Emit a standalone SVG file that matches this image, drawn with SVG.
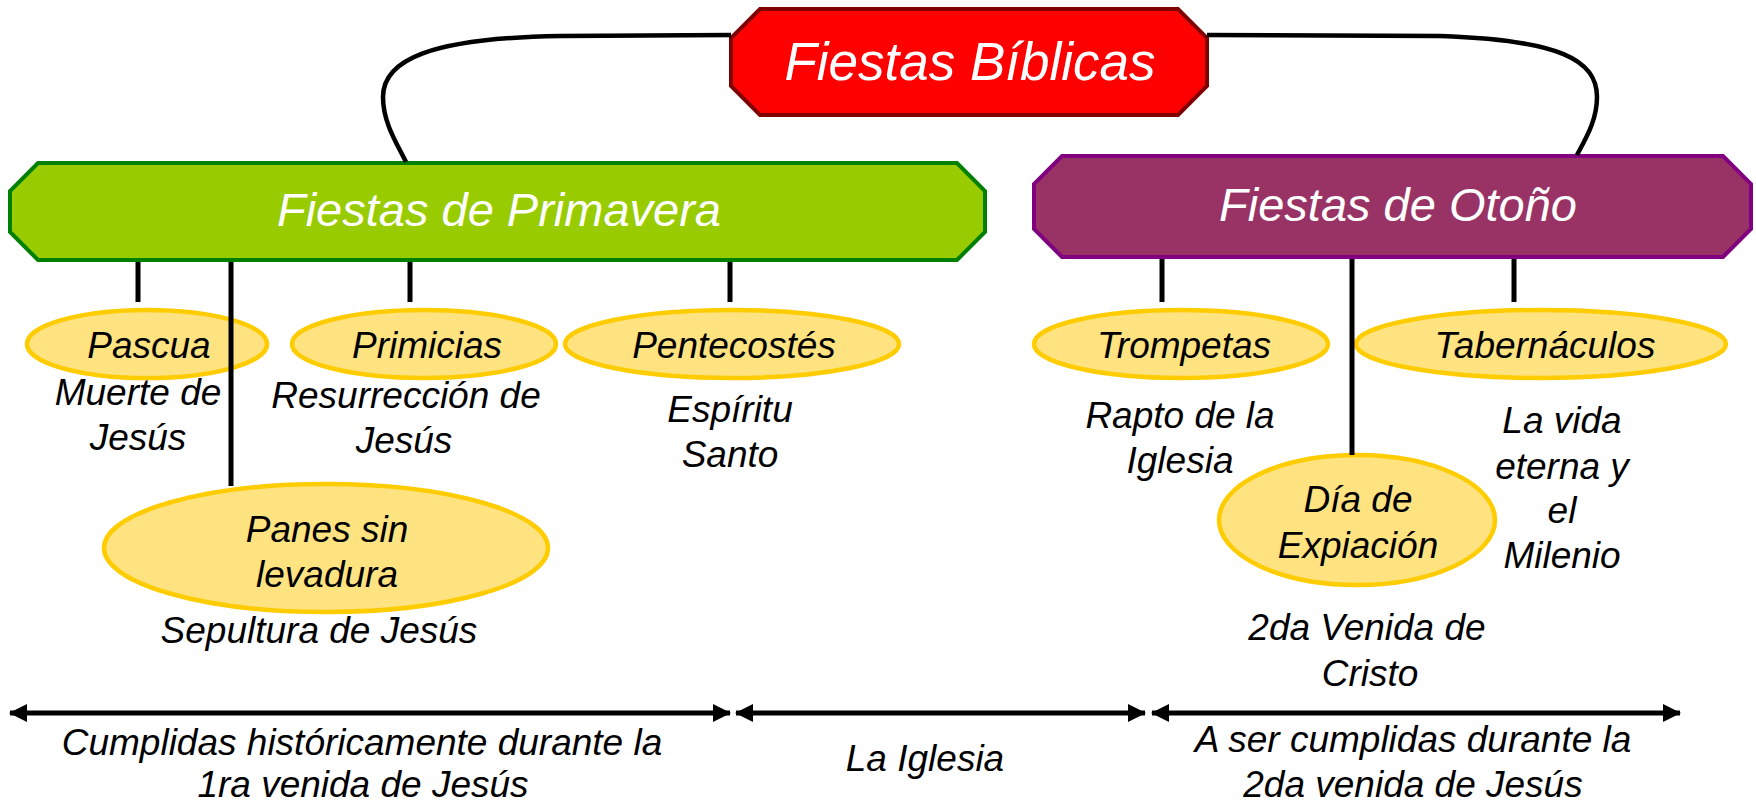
<svg xmlns="http://www.w3.org/2000/svg" width="1756" height="804" viewBox="0 0 1756 804">
<style>
text{font-family:"Liberation Sans",Arial,sans-serif;font-style:italic;text-anchor:middle;fill:#000}
.t{font-size:37px}
.h{fill:#fff}
.ell{fill:#FFE381;stroke:#FFCC00;stroke-width:4.5}
.ln{stroke:#000;stroke-width:5;fill:none}
.cv{stroke:#000;stroke-width:4.5;fill:none}
.ar{stroke:#000;stroke-width:5;fill:none;marker-start:url(#ah);marker-end:url(#ah)}
</style>
<defs>
<marker id="ah" markerUnits="userSpaceOnUse" markerWidth="18" markerHeight="18" refX="17" refY="9" orient="auto-start-reverse">
<path d="M0,0 L18,9 L0,18 z" fill="#000"/>
</marker>
</defs>
<rect width="1756" height="804" fill="#fff"/>

<g id="fiestas-biblicas">
<polygon points="760,9 1178,9 1207,38 1207,86 1178,115 760,115 731,86 731,38" fill="#FF0000" stroke="#800000" stroke-width="4"/>
<text x="970" y="80" class="h" style="font-size:53px">Fiestas Bíblicas</text>
</g>
<g id="primavera">
<polygon points="38,163 957,163 985,191 985,232 957,260 38,260 10,232 10,191" fill="#99CC00" stroke="#008000" stroke-width="4"/>
<text x="499" y="226" class="h" style="font-size:47px">Fiestas de Primavera</text>
</g>
<g id="otono">
<polygon points="1062,156 1723,156 1751,184 1751,229 1723,257 1062,257 1034,229 1034,184" fill="#993366" stroke="#800080" stroke-width="4"/>
<text x="1398" y="221" class="h" style="font-size:47px">Fiestas de Otoño</text>
</g>

<g id="pascua">
<ellipse class="ell" cx="147" cy="344" rx="120" ry="34"/>
<text class="t" x="149" y="358">Pascua</text>
<text class="t" x="138" y="405">Muerte de</text>
<text class="t" x="138" y="450">Jesús</text>
</g>
<g id="primicias">
<ellipse class="ell" cx="424" cy="344" rx="132" ry="34"/>
<text class="t" x="427" y="358">Primicias</text>
<text class="t" x="406" y="408">Resurrección de</text>
<text class="t" x="404" y="453">Jesús</text>
</g>
<g id="pentecostes">
<ellipse class="ell" cx="732" cy="344" rx="167" ry="34"/>
<text class="t" x="734" y="358">Pentecostés</text>
<text class="t" x="730" y="422">Espíritu</text>
<text class="t" x="730" y="467">Santo</text>
</g>
<g id="panes">
<ellipse class="ell" cx="326" cy="548" rx="222" ry="64"/>
<text class="t" x="327" y="542">Panes sin</text>
<text class="t" x="327" y="587">levadura</text>
<text class="t" x="319" y="643">Sepultura de Jesús</text>
</g>
<g id="trompetas">
<ellipse class="ell" cx="1181" cy="344" rx="147" ry="34"/>
<text class="t" x="1184" y="358">Trompetas</text>
<text class="t" x="1180" y="428">Rapto de la</text>
<text class="t" x="1180" y="473">Iglesia</text>
</g>
<g id="tabernaculos">
<ellipse class="ell" cx="1541" cy="344" rx="185" ry="34"/>
<text class="t" x="1545" y="358">Tabernáculos</text>
<text class="t" x="1562" y="433">La vida</text>
<text class="t" x="1562" y="479">eterna y</text>
<text class="t" x="1562" y="523">el</text>
<text class="t" x="1562" y="568">Milenio</text>
</g>
<g id="expiacion">
<ellipse class="ell" cx="1357" cy="520" rx="138" ry="65"/>
<text class="t" x="1358" y="512">Día de</text>
<text class="t" x="1358" y="558">Expiación</text>
<text class="t" x="1367" y="640">2da Venida de</text>
<text class="t" x="1370" y="686">Cristo</text>
</g>
<g id="periodos">
<text class="t" x="362" y="755">Cumplidas históricamente durante la</text>
<text class="t" x="363" y="797">1ra venida de Jesús</text>
<text class="t" x="925" y="771">La Iglesia</text>
<text class="t" x="1413" y="752">A ser cumplidas durante la</text>
<text class="t" x="1413" y="797">2da venida de Jesús</text>
</g>

<g id="connectors">
<path class="cv" d="M731,35 L560,36 C430,38 383,60 383,97 C383,122 396,142 406,162"/>
<path class="cv" d="M1207,35 L1440,36 C1560,40 1597,60 1597,97 C1597,120 1586,138 1577,155"/>
<line class="ln" x1="138" y1="262" x2="138" y2="302"/>
<line class="ln" x1="231" y1="262" x2="231" y2="486"/>
<line class="ln" x1="410" y1="262" x2="410" y2="302"/>
<line class="ln" x1="730" y1="262" x2="730" y2="302"/>
<line class="ln" x1="1162" y1="259" x2="1162" y2="302"/>
<line class="ln" x1="1352" y1="259" x2="1352" y2="455"/>
<line class="ln" x1="1514" y1="259" x2="1514" y2="302"/>
<line class="ar" x1="10" y1="713" x2="730" y2="713"/>
<line class="ar" x1="736" y1="713" x2="1145" y2="713"/>
<line class="ar" x1="1152" y1="713" x2="1680" y2="713"/>
</g>
</svg>
